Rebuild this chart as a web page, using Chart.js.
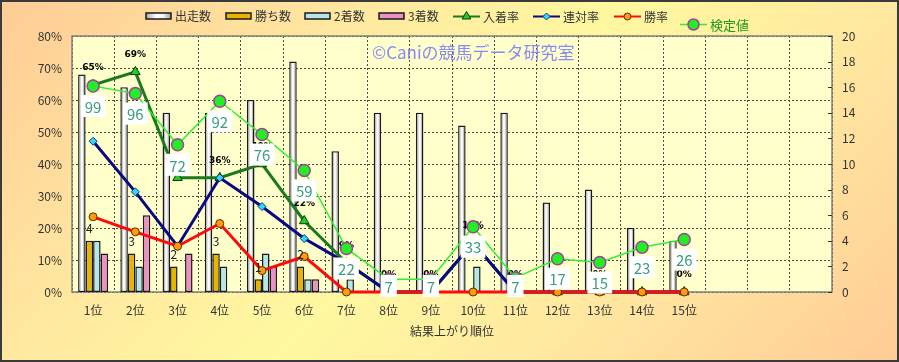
<!DOCTYPE html>
<html>
<head>
<meta charset="utf-8">
<script src="https://cdn.jsdelivr.net/npm/chart.js@4.4.1/dist/chart.umd.min.js"></script>
<style>
  html, body { margin: 0; padding: 0; }
  #wrap {
    position: relative; width: 899px; height: 362px;
    background: linear-gradient(135deg, #ffcb96 0%, #ffe9a0 30%, #fff8a0 50%, #ffe9a0 70%, #ffcb96 100%);
  }
  canvas { display: block; }
</style>
</head>
<body>
<div id="wrap"><canvas id="chart" width="899" height="362"></canvas></div>
<script>
/* 結果上がり順位別の成績。棒は右軸(頭数)、率は左軸(%)、検定値は右軸。 */

const positions = ['1位', '2位', '3位', '4位', '5位', '6位', '7位', '8位', '9位',
  '10位', '11位', '12位', '13位', '14位', '15位', '', '', ''];
const starts = [17, 16, 14, 14, 15, 18, 11, 14, 14, 13, 14, 7, 8, 5, 4];
const wins = [4, 3, 2, 3, 1, 2, 0, 0, 0, 0, 0, 0, 0, 0, 0];
const seconds = [4, 2, 0, 2, 3, 1, 1, 0, 0, 2, 0, 0, 0, 0, 0];
const thirds = [3, 6, 3, 0, 2, 1, 0, 0, 0, 0, 0, 0, 0, 0, 0];
const placeRate = [64.7, 68.8, 35.7, 35.7, 40.0, 22.2, 9.1, 0, 0, 15.4, 0, 0, 0, 0, 0];
const quinellaRate = [47.1, 31.3, 14.3, 35.7, 26.7, 16.7, 9.1, 0, 0, 15.4, 0, 0, 0, 0, 0];
const winRate = [23.5, 18.8, 14.3, 21.4, 6.7, 11.1, 0, 0, 0, 0, 0, 0, 0, 0, 0];
const testValue = [16.1, 15.5, 11.5, 14.9, 12.3, 9.5, 3.4, 1.0, 1.0, 5.1, 1.1, 2.6, 2.3, 3.5, 4.1];
const testLabels = ['99', '96', '72', '92', '76', '59', '22', '7', '7', '33', '7', '17', '15', '23', '26'];
const watermark = '©Caniの競馬データ研究室';

const JP = '"Noto Sans CJK JP", "Noto Sans", sans-serif';
Chart.defaults.font.family = JP;
Chart.defaults.font.size = 12;
Chart.defaults.color = '#333';

function silverGradient(ctx, x0, x1) {
  const g = ctx.createLinearGradient(x0, 0, x1, 0);
  g.addColorStop(0, '#a8a8a8');
  g.addColorStop(0.4, '#ffffff');
  g.addColorStop(0.7, '#f2f2f2');
  g.addColorStop(1, '#9c9c9c');
  return g;
}

const bar = (label, data, color) => ({
  type: 'bar', label, data, yAxisID: 'y1', order: 10,
  backgroundColor: color, borderColor: '#1a1a1a', borderWidth: 1.5, borderSkipped: false,
  categoryPercentage: 0.71, barPercentage: 1.0,
});

const line = (label, data, axis, color, width, pt, order) => Object.assign({
  type: 'line', label, data, yAxisID: axis, order, clip: false,
  borderColor: color, borderWidth: width, tension: 0,
}, pt);

// 背景・枠・透かし・右軸目盛
const decor = {
  id: 'decor',
  beforeDraw(chart) {
    const { ctx, chartArea: a } = chart;
    ctx.save();
    ctx.fillStyle = '#ffffcc';
    ctx.fillRect(a.left, a.top, a.right - a.left, a.bottom - a.top);
    ctx.restore();
  },
  beforeDatasetsDraw(chart) {
    const { ctx, chartArea: a } = chart;
    const y1 = chart.scales.y1;
    ctx.save();
    ctx.strokeStyle = '#808080';
    ctx.lineWidth = 1.5;
    ctx.strokeRect(a.left, a.top, a.right - a.left, a.bottom - a.top);
    ctx.strokeStyle = '#333';
    ctx.lineWidth = 1;
    y1.ticks.forEach(t => {
      const py = Math.round(y1.getPixelForValue(t.value)) + 0.5;
      ctx.beginPath(); ctx.moveTo(a.right - 4, py); ctx.lineTo(a.right, py); ctx.stroke();
    });
    ctx.fillStyle = '#8a8af4';
    ctx.font = '17px ' + JP;
    ctx.textBaseline = 'middle';
    ctx.fillText(watermark, 372, 53);
    ctx.restore();
  },
  afterDatasetDraw(chart, args) {
    const ctx = chart.ctx;
    if (args.index === 0) {
      ctx.save();
      args.meta.data.forEach(el => {
        const { x, y, base, width } = el.getProps(['x', 'y', 'base', 'width'], true);
        const x0 = x - width / 2 + 1.5, x1 = x + width / 2 - 1.5;
        ctx.fillStyle = silverGradient(ctx, x0, x1);
        ctx.fillRect(x0, y + 1.5, x1 - x0, base - y - 3);
      });
      ctx.restore();
    }
    if (args.index === 4) {
      // 入着率ラベルは後に描く系列の下に隠れる
      ctx.save();
      ctx.textAlign = 'center';
      ctx.textBaseline = 'middle';
      ctx.font = 'bold 9px "DejaVu Sans", sans-serif';
      ctx.fillStyle = '#000';
      args.meta.data.forEach((el, i) => {
        ctx.fillText(Math.round(placeRate[i]) + '%', el.x, el.y - 17);
      });
      ctx.restore();
    }
  },
  afterDraw(chart) {
    const ctx = chart.ctx;
    ctx.save();
    ctx.strokeStyle = '#3a3a3a';
    ctx.lineWidth = 2;
    ctx.strokeRect(1, 1, chart.width - 2, chart.height - 2);
    ctx.restore();
  },
};

// データラベル
const labels = {
  id: 'labels',
  afterDatasetsDraw(chart) {
    const ctx = chart.ctx;
    ctx.save();
    ctx.textAlign = 'center';
    ctx.textBaseline = 'middle';

    ctx.fillStyle = '#222';
    ctx.font = '12px ' + JP;
    chart.getDatasetMeta(1).data.forEach((el, i) => {
      if (wins[i]) ctx.fillText(String(wins[i]), el.x, el.y - 12);
    });

    ctx.font = '15px ' + JP;
    const bottom = chart.chartArea.bottom;
    chart.getDatasetMeta(7).data.forEach((el, i) => {
      const t = testLabels[i];
      const w = ctx.measureText(t).width + 8;
      const cy = Math.min(el.y + 20, bottom - 6);
      ctx.fillStyle = '#ffffff';
      ctx.fillRect(el.x - w / 2, cy - 11, w, 22);
      ctx.fillStyle = '#3d9d7d';
      ctx.fillText(t, el.x, cy + 1);
    });
    ctx.restore();
  },
};

// 凡例
const legend = {
  id: 'legendBox',
  afterDraw(chart) {
    const ctx = chart.ctx;
    const ds = chart.data.datasets;
    ctx.save();
    ctx.font = '12px ' + JP;
    ctx.textBaseline = 'middle';
    const boxX = [146, 226, 305, 379];
    boxX.forEach((x, i) => {
      ctx.fillStyle = i === 0 ? silverGradient(ctx, x, x + 25) : ds[i].backgroundColor;
      ctx.fillRect(x, 13, 25, 6);
      ctx.strokeStyle = '#1a1a1a';
      ctx.lineWidth = 1.5;
      ctx.strokeRect(x, 13, 25, 6);
      ctx.fillStyle = '#333';
      ctx.fillText(ds[i].label, x + 29, 16.5);
    });
    const lineX = [[453, 16.5], [533, 16.5], [614, 16.5], [680, 24.5]];
    lineX.forEach(([x, y], k) => {
      const d = ds[4 + k];
      ctx.strokeStyle = d.borderColor;
      ctx.lineWidth = Math.min(d.borderWidth, 2);
      ctx.beginPath(); ctx.moveTo(x, y); ctx.lineTo(x + 27, y); ctx.stroke();
      ctx.fillStyle = d.pointBackgroundColor;
      ctx.strokeStyle = d.pointBorderColor;
      ctx.lineWidth = d.pointBorderWidth;
      Chart.helpers.drawPoint(ctx, {
        pointStyle: d.pointStyle, radius: d.pointRadius - 0.5, borderWidth: d.pointBorderWidth,
      }, x + 13.5, y);
      ctx.fillStyle = k === 3 ? '#1f9a1f' : '#333';
      ctx.font = (k === 3 ? '13px ' : '12px ') + JP;
      ctx.fillText(d.label, x + 30, y + 0.5);
    });
    ctx.restore();
  },
};

new Chart(document.getElementById('chart'), {
  data: {
    labels: positions,
    datasets: [
      bar('出走数', starts, '#eeeeee'),
      bar('勝ち数', wins, '#e8b400'),
      bar('2着数', seconds, '#b4e6ea'),
      bar('3着数', thirds, '#ea90c2'),
      line('入着率', placeRate, 'y', '#1c7a1c', 3,
        { pointStyle: 'triangle', pointRadius: 5.5, pointBackgroundColor: '#22cc22',
          pointBorderColor: '#0b3b0b', pointBorderWidth: 1 }, 4),
      line('連対率', quinellaRate, 'y', '#0a0a80', 3,
        { pointStyle: 'rectRot', pointRadius: 4, pointBackgroundColor: '#33d6ff',
          pointBorderColor: '#0a3a6a', pointBorderWidth: 1 }, 2),
      line('勝率', winRate, 'y', '#ff0a0a', 3,
        { pointStyle: 'circle', pointRadius: 4, pointBackgroundColor: '#ff9a0a',
          pointBorderColor: '#5a3000', pointBorderWidth: 1 }, 1),
      line('検定値', testValue, 'y1', '#33ee33', 1.5,
        { pointStyle: 'circle', pointRadius: 6, pointBackgroundColor: '#22ee22',
          pointBorderColor: '#a040a0', pointBorderWidth: 1.5 }, 3),
    ],
  },
  options: {
    responsive: false,
    animation: false,
    layout: { padding: { top: 36, left: 0, right: 0, bottom: 0 } },
    plugins: { legend: { display: false }, tooltip: { enabled: false } },
    scales: {
      x: {
        offset: true,
        grid: { color: '#4a4a4a', lineWidth: 1, drawTicks: false, offset: true },
        border: { display: false, dash: [2, 2] },
        ticks: { color: '#333', padding: 11, autoSkip: false, maxRotation: 0, font: { size: 12 } },
        title: { display: true, text: '結果上がり順位', color: '#333', font: { size: 12 },
          padding: { top: 4, bottom: 23 } },
        afterFit: s => { s.height = 70; },
      },
      y: {
        position: 'left', min: 0, max: 80,
        grid: { color: '#4a4a4a', lineWidth: 1, drawTicks: false },
        border: { display: false, dash: [2, 2] },
        ticks: { stepSize: 10, padding: 10, color: '#333', callback: v => v + '%' },
        afterFit: s => { s.width = 72; },
      },
      y1: {
        position: 'right', min: 0, max: 20,
        grid: { display: false, drawTicks: false },
        border: { display: false },
        ticks: { stepSize: 2, padding: 10, color: '#333' },
        afterFit: s => { s.width = 67; },
      },
    },
  },
  plugins: [decor, labels, legend],
});
</script>
</body>
</html>
